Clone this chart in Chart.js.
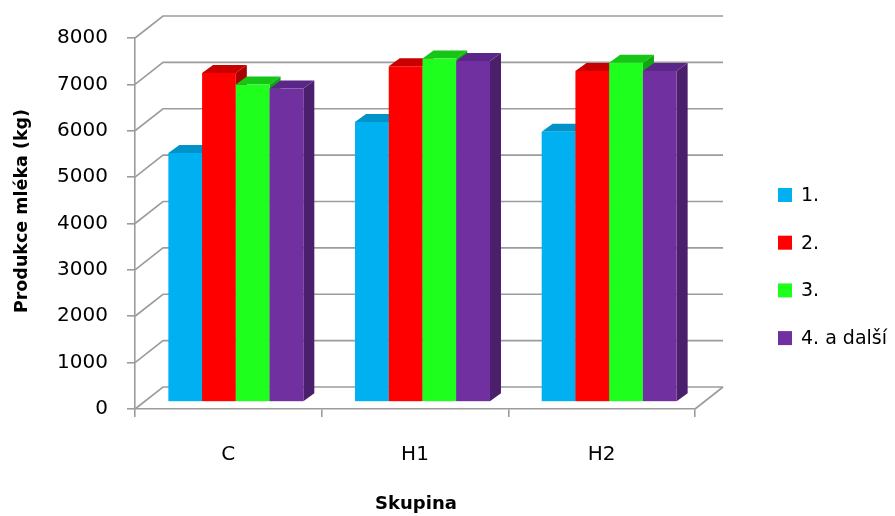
<!DOCTYPE html>
<html>
<head>
<meta charset="utf-8">
<script src="https://cdn.jsdelivr.net/npm/chart.js@4.4.1/dist/chart.umd.min.js"></script>
<style>
  html, body { margin: 0; padding: 0; background: #ffffff; }
  #wrap { width: 895px; height: 516px; }
</style>
</head>
<body>
<div id="wrap"><canvas id="c" width="895" height="516"></canvas></div>
<script>
// Milk production per group and lactation order
const categories = ['C', 'H1', 'H2'];
const seriesNames = ['1.', '2.', '3.', '4. a další'];
const series1 = [5370, 6040, 5825];
const series2 = [7095, 7240, 7140];
const series3 = [6845, 7405, 7315];
const series4 = [6760, 7355, 7140];
const yAxisTitle = 'Produkce mléka (kg)';
const xAxisTitle = 'Skupina';

// Styling for the pseudo-3D look
const FACE = ['#00B0F0', '#FF0000', '#1EFF1E', '#7030A0'];
const TOP  = ['#0092C8', '#C80000', '#16C616', '#5A2688'];
const SIDE = ['#007BAA', '#A80000', '#10A810', '#4A1F6B'];
const WALL = { dx: 28, dy: -22 };       // depth of the back wall
const BAR_SHIFT = { dx: 7.5, dy: -7 };  // bars stand a little into the floor
const BAR_DEPTH = { dx: 11, dy: -8 };   // thickness of each bar
const GRID = '#9c9c9c';
const FONT = '"DejaVu Sans", sans-serif';

function poly(ctx, pts, color) {
  ctx.beginPath();
  ctx.moveTo(pts[0][0], pts[0][1]);
  for (let k = 1; k < pts.length; k++) ctx.lineTo(pts[k][0], pts[k][1]);
  ctx.closePath();
  ctx.fillStyle = color;
  ctx.fill();
}

const depthPlugin = {
  id: 'depth3d',
  beforeDatasetsDraw(chart) {
    const { ctx, chartArea: a, scales: { y } } = chart;
    ctx.save();
    ctx.strokeStyle = GRID;
    ctx.lineWidth = 1.6;
    // side wall diagonals and back wall gridlines
    y.ticks.forEach(t => {
      const py = y.getPixelForValue(t.value);
      ctx.beginPath();
      ctx.moveTo(a.left, py);
      ctx.lineTo(a.left + WALL.dx, py + WALL.dy);
      ctx.lineTo(a.right + WALL.dx, py + WALL.dy);
      ctx.stroke();
    });
    // right edge of the floor
    const by = y.getPixelForValue(0);
    ctx.beginPath();
    ctx.moveTo(a.right, by);
    ctx.lineTo(a.right + WALL.dx, by + WALL.dy);
    ctx.stroke();
    ctx.restore();
  },
  afterDatasetsDraw(chart) {
    const ctx = chart.ctx;
    const metas = chart.data.datasets.map((d, i) => chart.getDatasetMeta(i));
    ctx.save();
    categories.forEach((_, j) => {
      metas.forEach((meta, i) => {
        const el = meta.data[j];
        const w = el.width;
        const xl = el.x - w / 2 + BAR_SHIFT.dx;
        const xr = el.x + w / 2 + BAR_SHIFT.dx;
        const yt = el.y + BAR_SHIFT.dy;
        const yb = el.base + BAR_SHIFT.dy;
        const { dx, dy } = BAR_DEPTH;
        poly(ctx, [[xr, yt], [xr + dx, yt + dy], [xr + dx, yb + dy], [xr, yb]], SIDE[i]);
        poly(ctx, [[xl, yt], [xr, yt], [xr + dx, yt + dy], [xl + dx, yt + dy]], TOP[i]);
        ctx.fillStyle = FACE[i];
        ctx.fillRect(xl, yt, xr - xl, yb - yt);
      });
    });
    ctx.restore();
  },
  afterDraw(chart) {
    const ctx = chart.ctx;
    ctx.save();
    // legend
    ctx.font = '19px ' + FONT;
    ctx.textBaseline = 'middle';
    ctx.textAlign = 'left';
    chart.data.datasets.forEach((ds, i) => {
      const cy = 195 + i * 47.7;
      ctx.fillStyle = FACE[i];
      ctx.fillRect(778, cy - 7, 14, 14);
      ctx.fillStyle = '#000000';
      ctx.fillText(ds.label, 801, cy + 1);
    });
    // axis titles
    ctx.font = 'bold 18px ' + FONT;
    ctx.textAlign = 'center';
    ctx.fillText(xAxisTitle, 416, 504);
    ctx.translate(22, 211);
    ctx.rotate(-Math.PI / 2);
    ctx.font = 'bold 17.5px ' + FONT;
    ctx.fillText(yAxisTitle, 0, 0);
    ctx.restore();
  }
};

const seriesValues = [series1, series2, series3, series4];

new Chart(document.getElementById('c'), {
  type: 'bar',
  data: {
    labels: categories,
    datasets: seriesNames.map((name, i) => ({
      label: name,
      data: seriesValues[i],
      backgroundColor: 'rgba(0,0,0,0)',
      borderWidth: 0,
      categoryPercentage: 0.723,
      barPercentage: 1.0
    }))
  },
  options: {
    responsive: false,
    animation: false,
    layout: { padding: { left: 0, right: 200, top: 38, bottom: 0 } },
    plugins: {
      legend: { display: false },
      tooltip: { enabled: false }
    },
    scales: {
      x: {
        offset: true,
        grid: {
          offset: true,
          drawOnChartArea: false,
          drawTicks: true,
          tickLength: 8,
          color: GRID,
          lineWidth: 1.6
        },
        border: { display: true, color: GRID, width: 1.6 },
        ticks: { color: '#000000', font: { family: FONT, size: 20 }, padding: 26, maxRotation: 0 },
        afterFit(scale) { scale.height = 107; }
      },
      y: {
        min: 0,
        max: 8000,
        grid: {
          drawOnChartArea: false,
          drawTicks: true,
          tickLength: 8,
          color: GRID,
          lineWidth: 1.6
        },
        border: { display: true, color: GRID, width: 1.6 },
        ticks: {
          stepSize: 1000,
          color: '#000000',
          font: { family: FONT, size: 20 },
          padding: 19,
          callback: v => String(v)
        },
        afterFit(scale) { scale.width = 135; }
      }
    }
  },
  plugins: [depthPlugin]
});
</script>
</body>
</html>
